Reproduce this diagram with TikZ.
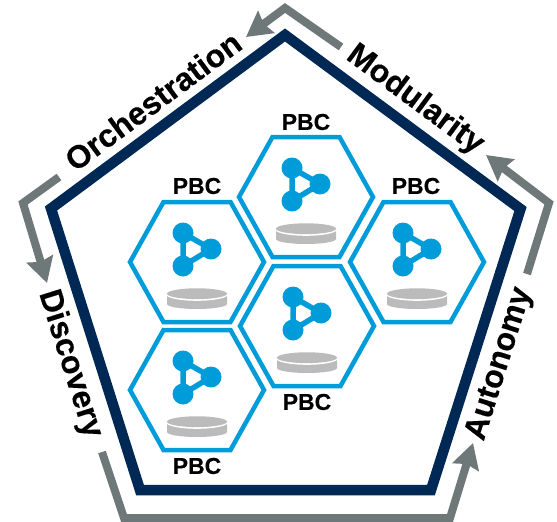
\documentclass[tikz,border=0pt]{standalone}
\usepackage{fontspec}
\setmainfont[BoldFeatures={FakeBold=0.35}]{Liberation Sans}
\usetikzlibrary{arrows.meta}
\definecolor{navy}{HTML}{002855}
\definecolor{hexblue}{HTML}{009CD9}
\definecolor{loopgrey}{HTML}{6F7878}
\definecolor{diskgrey}{HTML}{BBBBBB}
\tikzset{
  frame/.style={draw=navy,line width=10.5pt,miter limit=10,line join=miter},
  looparrow/.style={draw=loopgrey,line width=8pt,line join=miter,miter limit=10,
    -{Stealth[length=25pt,width=27pt,inset=3pt]}},
  hexa/.style={draw=hexblue,line width=4.5pt,line join=miter},
  pbc/.style={font=\fontsize{23}{25}\selectfont\bfseries,inner sep=0pt},
  pillar/.style={font=\fontsize{32}{34}\selectfont\bfseries,inner sep=0pt},
  dot/.style={circle,fill=hexblue,minimum size=21pt,inner sep=0pt},
  link/.style={draw=hexblue,line width=5.5pt},
}
\newcommand{\pbchex}[3]{%
  \begin{scope}[shift={(#1,#2)}]
    \draw[hexa] (-33.5,-60) -- (33.5,-60) -- (67,0) -- (33.5,60) -- (-33.5,60) -- (-67,0) -- cycle;
    \node[dot] (#3a) at (-14,-29) {};
    \node[dot] (#3b) at (14,-13) {};
    \node[dot] (#3c) at (-14,4) {};
    \draw[link] (#3a.center) -- (#3b.center) -- (#3c.center) -- cycle;
    \fill[diskgrey] (-30,33) -- (-30,42) arc[start angle=180,end angle=0,x radius=30,y radius=5] -- (30,33) -- cycle;
    \fill[white] (0,32.4) ellipse[x radius=31,y radius=6.4];
    \fill[diskgrey] (0,31.7) ellipse[x radius=30,y radius=5.4];
  \end{scope}}
\begin{document}
\begin{tikzpicture}[x=1pt,y=-1pt]
\useasboundingbox (0,0) rectangle (557,522);
\coordinate (pt) at (285,35);
\coordinate (pr) at (520.5,209);
\coordinate (pbr) at (431,490);
\coordinate (pbl) at (140,490);
\coordinate (pl) at (51,208.5);
\draw[frame] (pt) -- (pr) -- (pbr) -- (pbl) -- (pl) -- cycle;

\pbchex{306}{197}{h1}
\pbchex{197}{262}{h2}
\pbchex{417}{262}{h3}
\pbchex{307}{326}{h4}
\pbchex{197}{390}{h5}

\node[pbc] (l1) at (306,122) {PBC};
\node[pbc] (l2) at (197,186) {PBC};
\node[pbc] (l3) at (416,186) {PBC};
\node[pbc] (l4) at (307,402) {PBC};
\node[pbc] (l5) at (197,466) {PBC};

\node[pillar,rotate=36.5] (orch) at (153,101) {Orchestration};
\node[pillar,rotate=-36.5] (mod) at (415,100) {Modularity};
\node[pillar,rotate=-72.5] (disc) at (70,364) {Discovery};
\node[pillar,rotate=72.5] (auto) at (500,364) {Autonomy};

\coordinate (a1s) at (341,47);
\coordinate (a1c) at (285,8);
\coordinate (a1e) at (246,37);
\draw[looparrow] (a1s) -- (a1c) -- (a1e);
\coordinate (a2s) at (59,177);
\coordinate (a2c) at (23,203);
\coordinate (a2e) at (47,283);
\draw[looparrow] (a2s) -- (a2c) -- (a2e);
\coordinate (a3s) at (102,452);
\coordinate (a3c) at (124,518);
\coordinate (a3e0) at (450,518);
\coordinate (a3e) at (473,443);
\draw[looparrow] (a3s) -- (a3c) -- (a3e0) -- (a3e);
\coordinate (a4s) at (527,274);
\coordinate (a4c) at (549,203);
\coordinate (a4e) at (486,155);
\draw[looparrow] (a4s) -- (a4c) -- (a4e);
\end{tikzpicture}
\end{document}
